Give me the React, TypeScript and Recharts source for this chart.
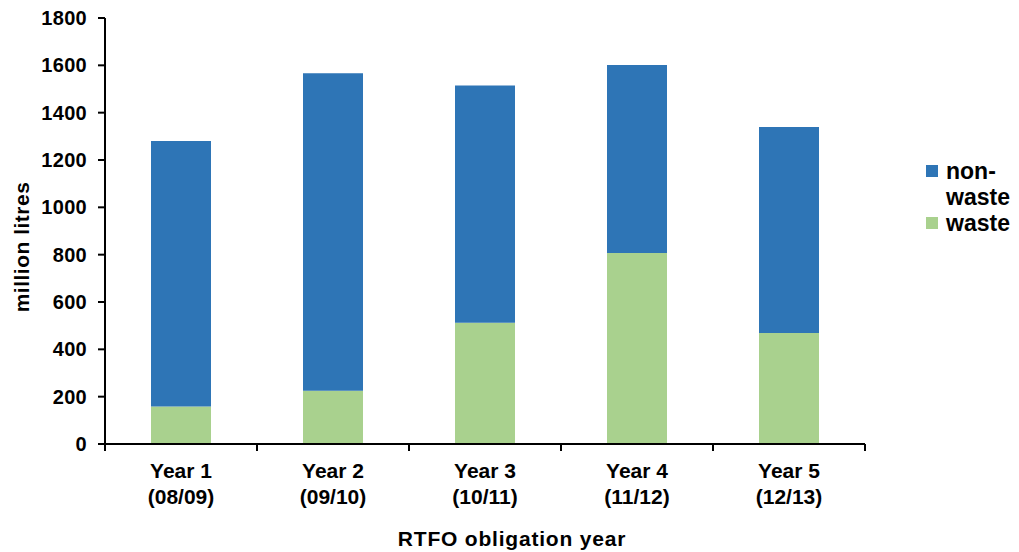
import { Bar, BarChart, Label, Legend, XAxis, YAxis } from "recharts";

// million litres supplied per RTFO year
const YEARS = ["Year 1", "Year 2", "Year 3", "Year 4", "Year 5"];
const PERIODS = ["(08/09)", "(09/10)", "(10/11)", "(11/12)", "(12/13)"];
const WASTE = [158, 225, 512, 807, 469];
const NON_WASTE = [1122, 1342, 1003, 794, 870];
const Y_TICKS = [0, 200, 400, 600, 800, 1000, 1200, 1400, 1600, 1800];

const BLUE = "#2E75B6";
const GREEN = "#A9D18E";
const FONT = '"Liberation Sans", Arial, sans-serif';

const data = YEARS.map((year, i) => ({
  year,
  period: PERIODS[i],
  waste: WASTE[i],
  nonWaste: NON_WASTE[i],
}));

const legendItems = [
  { name: "non-waste", color: BLUE },
  { name: "waste", color: GREEN },
];

const YearTick = ({ x, y, payload, index }: any) => {
  const half = payload?.offset ?? 76;
  return (
    <g>
      <line x1={x - half} y1={y} x2={x - half} y2={y + 7} stroke="#000" strokeWidth={2} />
      {index === YEARS.length - 1 && (
        <line x1={x + half} y1={y} x2={x + half} y2={y + 7} stroke="#000" strokeWidth={2} />
      )}
      <text
        x={x}
        y={y + 34}
        textAnchor="middle"
        fontFamily={FONT}
        fontWeight="bold"
        fontSize={21}
        fill="#000"
      >
        {payload.value}
      </text>
      <text
        x={x}
        y={y + 60}
        textAnchor="middle"
        fontFamily={FONT}
        fontWeight="bold"
        fontSize={21}
        fill="#000"
      >
        {PERIODS[index]}
      </text>
    </g>
  );
};

const LegendBox = () => (
  <div style={{ fontFamily: FONT, fontWeight: "bold", fontSize: 23, lineHeight: "26px", color: "#000" }}>
    {legendItems.map((item) => (
      <div key={item.name} style={{ display: "flex", alignItems: "flex-start" }}>
        <span
          style={{
            width: 12,
            height: 12,
            marginTop: 7,
            marginRight: 8,
            background: item.color,
            flex: "none",
          }}
        />
        <span style={{ width: 72 }}>{item.name}</span>
      </div>
    ))}
  </div>
);

export default function App() {
  return (
    <div style={{ position: "absolute", left: 0, top: 0, background: "#fff" }}>
      <BarChart
        width={1019}
        height={552}
        data={data}
        margin={{ top: 18, right: 154, bottom: 48, left: 25 }}
      >
        <XAxis
          dataKey="year"
          height={60}
          axisLine={{ stroke: "#000", strokeWidth: 2 }}
          tickLine={false}
          tickSize={0}
          tickMargin={0}
          tick={<YearTick />}
          interval={0}
        >
          <Label
            content={() => (
              <text
                x={512}
                y={546}
                textAnchor="middle"
                fontFamily={FONT}
                fontWeight="bold"
                fontSize={21}
                letterSpacing={0.8}
                fill="#000"
              >
                RTFO obligation year
              </text>
            )}
          />
        </XAxis>
        <YAxis
          width={80}
          domain={[0, 1800]}
          ticks={Y_TICKS}
          interval={0}
          axisLine={{ stroke: "#000", strokeWidth: 2 }}
          tickLine={{ stroke: "#000", strokeWidth: 2 }}
          tickSize={7}
          tickMargin={11}
          tick={{ fontFamily: FONT, fontWeight: "bold", fontSize: 20, fill: "#000", letterSpacing: 0.3 }}
        >
          <Label
            content={() => (
              <text
                x={21}
                y={247}
                transform="rotate(-90, 21, 247)"
                textAnchor="middle"
                dominantBaseline="central"
                fontFamily={FONT}
                fontWeight="bold"
                fontSize={21}
                letterSpacing={0.5}
                fill="#000"
              >
                million litres
              </text>
            )}
          />
        </YAxis>
        <Legend
          layout="vertical"
          align="center"
          verticalAlign="middle"
          content={<LegendBox />}
          wrapperStyle={{ left: 926, top: 158, width: 93 }}
        />
        <Bar dataKey="waste" name="waste" stackId="a" fill={GREEN} barSize={60} isAnimationActive={false} />
        <Bar dataKey="nonWaste" name="non-waste" stackId="a" fill={BLUE} barSize={60} isAnimationActive={false} />
      </BarChart>
    </div>
  );
}
